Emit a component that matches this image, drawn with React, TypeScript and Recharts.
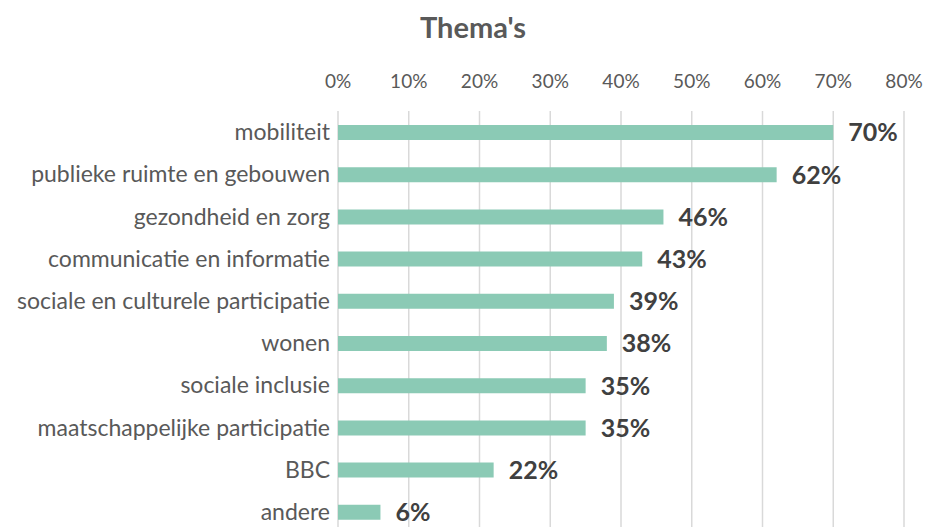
import { BarChart, Bar, XAxis, YAxis, CartesianGrid, LabelList } from "recharts";

const categories = [
  "mobiliteit",
  "publieke ruimte en gebouwen",
  "gezondheid en zorg",
  "communicatie en informatie",
  "sociale en culturele participatie",
  "wonen",
  "sociale inclusie",
  "maatschappelijke participatie",
  "BBC",
  "andere",
];
const values = [70, 62, 46, 43, 39, 38, 35, 35, 22, 6];
const ticks = [0, 10, 20, 30, 40, 50, 60, 70, 80];

const data = categories.map((name, i) => ({ name, value: values[i] }));

const FONT = "Lato, 'Open Sans', sans-serif";

export default function App() {
  return (
    <div
      style={{
        position: "absolute",
        left: 0,
        top: 0,
        width: 928,
        height: 527,
        overflow: "hidden",
        background: "#fff",
        fontFamily: FONT,
      }}
    >
      <div
        style={{
          position: "absolute",
          left: 0,
          top: 10,
          width: 946,
          textAlign: "center",
          fontSize: 29,
          fontWeight: 700,
          color: "#595959",
          lineHeight: "34px",
        }}
      >
        Thema's
      </div>
      <BarChart
        width={928}
        height={540}
        data={data}
        layout="vertical"
        margin={{ top: 60, right: 24, bottom: 7, left: 0 }}
      >
        <CartesianGrid horizontal={false} stroke="#d9d9d9" strokeWidth={1.5} />
        <XAxis
          type="number"
          orientation="top"
          domain={[0, 80]}
          ticks={ticks}
          height={51}
          axisLine={false}
          tickLine={false}
          tickMargin={17}
          tickFormatter={(v: number) => `${v}%`}
          tick={{ fill: "#595959", fontSize: 19, fontFamily: FONT }}
          interval={0}
        />
        <YAxis
          type="category"
          dataKey="name"
          width={338}
          axisLine={false}
          tickLine={false}
          tick={{ fill: "#595959", fontSize: 23, fontFamily: FONT }}
          interval={0}
        />
        <Bar dataKey="value" fill="#8bcab5" barSize={15} isAnimationActive={false}>
          <LabelList
            dataKey="value"
            position="right"
            offset={15}
            formatter={(v: number) => `${v}%`}
            fill="#404040"
            fontSize={25}
            fontWeight={700}
            fontFamily={FONT}
          />
        </Bar>
      </BarChart>
    </div>
  );
}
